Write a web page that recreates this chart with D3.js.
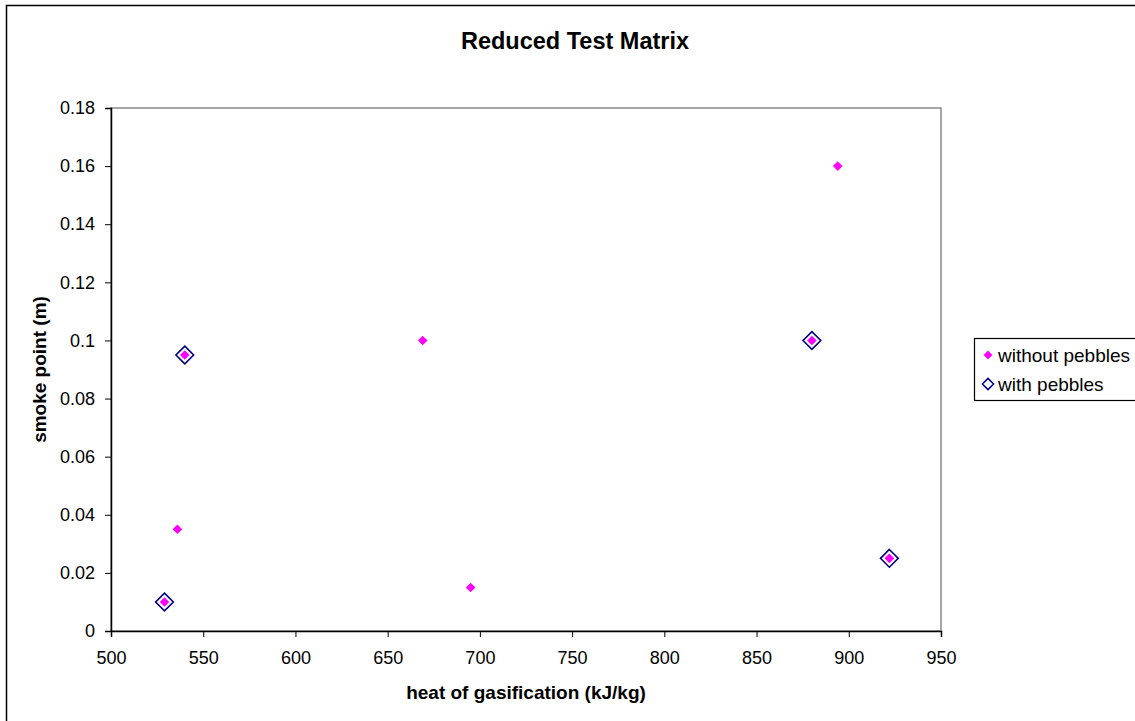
<!DOCTYPE html>
<html>
<head>
<meta charset="utf-8">
<script src="https://cdn.jsdelivr.net/npm/d3@7"></script>
<style>
  body { margin: 0; background: #fff; }
  svg text { font-family: "Liberation Sans", Arial, sans-serif; }
</style>
</head>
<body>
<div id="chart"></div>
<script>
var w = 1135;
var h = 721;

// heat of gasification (kJ/kg) and smoke point (m)
var withoutX = [529, 536, 540, 669, 695, 880, 894, 922];
var withoutY = [0.01, 0.035, 0.095, 0.1, 0.015, 0.1, 0.16, 0.025];
var withX = [529, 540, 880, 922];
var withY = [0.01, 0.095, 0.1, 0.025];
var xTicks = [500, 550, 600, 650, 700, 750, 800, 850, 900, 950];
var yTicks = [0, 0.02, 0.04, 0.06, 0.08, 0.1, 0.12, 0.14, 0.16, 0.18];
var seriesNames = ["without pebbles", "with pebbles"];

var plotLeft = 111, plotRight = 941, plotTop = 108, plotBottom = 631;

var xScale = d3.scaleLinear().domain([500, 950]).range([plotLeft, plotRight]);
var yScale = d3.scaleLinear().domain([0, 0.18]).range([plotBottom, plotTop]);

var svg = d3.select("#chart").append("svg").attr("width", w).attr("height", h);

// outer frame
svg.append("rect")
  .attr("x", 6.5).attr("y", 5.5)
  .attr("width", w).attr("height", h)
  .attr("fill", "none").attr("stroke", "#000").attr("stroke-width", 1.5);

// plot area border (gray top/right)
svg.append("rect")
  .attr("x", plotLeft).attr("y", plotTop)
  .attr("width", plotRight - plotLeft).attr("height", plotBottom - plotTop)
  .attr("fill", "none").attr("stroke", "#888").attr("stroke-width", 1.5);

var xAxis = svg.append("g")
  .attr("transform", "translate(0," + plotBottom + ")")
  .call(d3.axisBottom(xScale).tickValues(xTicks).tickSize(6).tickPadding(14).tickFormat(d3.format("d")));
var yAxis = svg.append("g")
  .attr("transform", "translate(" + plotLeft + ",0)")
  .call(d3.axisLeft(yScale).tickValues(yTicks).tickSize(6).tickPadding(10)
    .tickFormat(function (d) { return d === 0 ? "0" : String(+d.toFixed(2)); }));

[xAxis, yAxis].forEach(function (a) {
  a.select(".domain").attr("stroke", "#000").attr("stroke-width", 1.5);
  a.selectAll(".tick line").attr("stroke", "#000").attr("stroke-width", 1);
  a.selectAll(".tick text").attr("font-size", 18).attr("fill", "#000")
    .style("font-family", "'Liberation Sans', Arial, sans-serif");
});

function diamond(size) {
  return d3.symbol().type(d3.symbolDiamond2).size(size)();
}

svg.selectAll("path.with")
  .data(withX)
  .enter()
  .append("path")
  .attr("class", "with")
  .attr("d", diamond(200))
  .attr("transform", function (d, i) { return "translate(" + xScale(d) + "," + yScale(withY[i]) + ")"; })
  .attr("fill", "none").attr("stroke", "#000080").attr("stroke-width", 1.6);

svg.selectAll("path.without")
  .data(withoutX)
  .enter()
  .append("path")
  .attr("class", "without")
  .attr("d", diamond(58))
  .attr("transform", function (d, i) { return "translate(" + xScale(d) + "," + yScale(withoutY[i]) + ")"; })
  .attr("fill", "#ff00ff");

// titles
svg.append("text")
  .attr("x", 575).attr("y", 49)
  .attr("text-anchor", "middle")
  .attr("font-size", 23.5).attr("font-weight", "bold")
  .text("Reduced Test Matrix");

svg.append("text")
  .attr("x", (plotLeft + plotRight) / 2).attr("y", 699)
  .attr("text-anchor", "middle")
  .attr("font-size", 19).attr("font-weight", "bold")
  .text("heat of gasification (kJ/kg)");

svg.append("text")
  .attr("transform", "translate(46," + (plotTop + plotBottom) / 2 + ") rotate(-90)")
  .attr("text-anchor", "middle")
  .attr("font-size", 19).attr("font-weight", "bold")
  .text("smoke point (m)");

// legend
var legend = svg.append("g").attr("transform", "translate(974,338)");
legend.append("rect")
  .attr("x", 0.5).attr("y", 0.5)
  .attr("width", 175).attr("height", 62)
  .attr("fill", "#fff").attr("stroke", "#000").attr("stroke-width", 1.2);

var items = legend.selectAll("g.item")
  .data(seriesNames)
  .enter()
  .append("g")
  .attr("class", "item")
  .attr("transform", function (d, i) { return "translate(0," + (17 + i * 29) + ")"; });

items.append("path")
  .attr("d", function (d, i) { return i === 0 ? diamond(50) : diamond(80); })
  .attr("transform", "translate(14,0)")
  .attr("fill", function (d, i) { return i === 0 ? "#ff00ff" : "none"; })
  .attr("stroke", function (d, i) { return i === 0 ? "none" : "#000080"; })
  .attr("stroke-width", 1.5);

items.append("text")
  .attr("x", 24).attr("y", 7)
  .attr("font-size", 19)
  .text(function (d) { return d; });
</script>
</body>
</html>
